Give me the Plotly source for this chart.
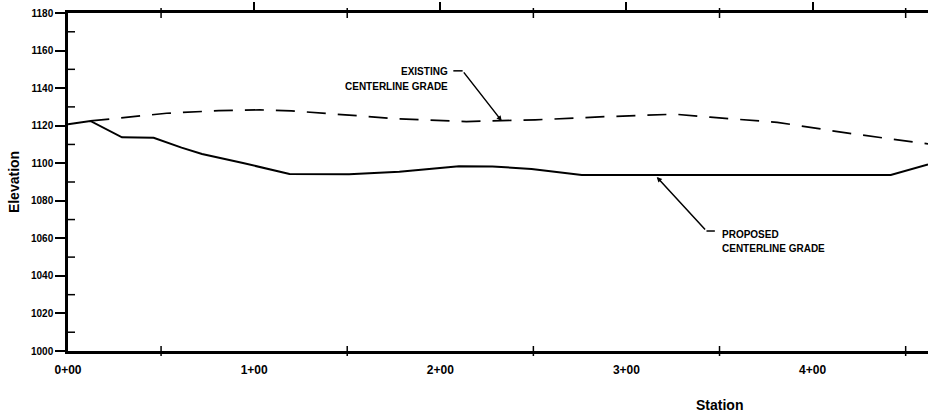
import plotly.graph_objects as go

# proposed centerline grade (solid)
station_prop = [0, 12, 29, 46, 61, 72, 94, 119, 151, 178, 210, 228, 249, 276, 442, 462]
elev_prop = [1120.8, 1122.5, 1113.8, 1113.5, 1108.3, 1104.9, 1100.1, 1094.3,
             1094.1, 1095.5, 1098.4, 1098.3, 1096.9, 1093.7, 1093.7, 1099.4]

# existing centerline grade (dashed)
station_exist = [12, 53, 81, 103, 120, 155, 178, 214, 251, 289, 326, 345, 381, 419, 456, 462]
elev_exist = [1122.5, 1126.6, 1128.0, 1128.4, 1127.9, 1125.4, 1123.6, 1122.2,
              1123.1, 1124.8, 1126.1, 1124.5, 1121.8, 1116.0, 1111.0, 1110.3]

x_ticks = [0, 100, 200, 300, 400]
x_labels = ["0+00", "1+00", "2+00", "3+00", "4+00"]
x_half = [50, 150, 250, 350, 450]
y_ticks = list(range(1000, 1181, 20))
y_half = list(range(1010, 1180, 20))

FONT = "Liberation Sans"

fig = go.Figure()
fig.add_trace(go.Scatter(x=station_prop, y=elev_prop, mode="lines",
                         line=dict(color="black", width=2)))
fig.add_trace(go.Scatter(x=station_exist, y=elev_exist, mode="lines", xaxis="x2",
                         line=dict(color="black", width=1.7, dash="19px,12px")))

fig.update_layout(
    width=928, height=420,
    plot_bgcolor="white", paper_bgcolor="white",
    showlegend=False,
    margin=dict(l=68, r=0, t=13, b=69),
    font=dict(family=FONT, color="black", weight="bold"),
    xaxis=dict(range=[0, 462], tickvals=x_ticks, ticktext=x_labels, ticks="",
               showline=True, linewidth=2.5, linecolor="black", showgrid=False,
               zeroline=False, tickfont=dict(size=12, weight="bold"),
               ticklabelstandoff=6, automargin=False, ticklabeloverflow="allow"),
    xaxis2=dict(overlaying="x", matches="x", side="top", tickvals=x_ticks[1:],
                ticks="outside", ticklen=8, tickwidth=1.5, tickcolor="black",
                showticklabels=False, showline=True, linewidth=2.5,
                linecolor="black", showgrid=False, zeroline=False,
                automargin=False),
    yaxis=dict(range=[1000, 1180], tickvals=y_ticks, ticks="outside", ticklen=10,
               tickwidth=1.5, tickcolor="black", showline=True, linewidth=2.5,
               linecolor="black", showgrid=False, zeroline=False,
               tickfont=dict(size=10, weight="bold"), automargin=False,
               ticklabeloverflow="allow",
               title=dict(text="Elevation", font=dict(size=14, weight="bold"),
                          standoff=9)),
)

# crossing ticks at half stations and odd tens
for xv in x_half:
    for ya in (0, 1):
        fig.add_shape(type="line", xref="x", yref="paper", ysizemode="pixel",
                      yanchor=ya, x0=xv, x1=xv, y0=-5, y1=5,
                      line=dict(color="black", width=1.5))
for yv in y_half:
    fig.add_shape(type="line", yref="y", xref="paper", xsizemode="pixel",
                  xanchor=0, y0=yv, y1=yv, x0=-3, x1=7,
                  line=dict(color="black", width=1.5))

lbl = dict(size=10, weight="bold")
fig.add_annotation(x=205, y=1148.7, text="EXISTING", showarrow=False,
                   xanchor="right", yanchor="middle", font=lbl)
fig.add_annotation(x=205, y=1140.9, text="CENTERLINE GRADE", showarrow=False,
                   xanchor="right", yanchor="middle", font=lbl)
fig.add_annotation(x=350, y=1062.3, text="PROPOSED", showarrow=False,
                   xanchor="left", yanchor="middle", font=lbl)
fig.add_annotation(x=350, y=1054.5, text="CENTERLINE GRADE", showarrow=False,
                   xanchor="left", yanchor="middle", font=lbl)

# leaders
fig.add_shape(type="line", x0=207, x1=212, y0=1149.2, y1=1149.2,
              line=dict(color="black", width=1.5))
fig.add_annotation(x=233, y=1122.5, ax=212, ay=1149.2, axref="x", ayref="y",
                   text="", showarrow=True, arrowhead=2, arrowsize=0.7,
                   arrowwidth=1.5, arrowcolor="black")
fig.add_shape(type="line", x0=343, x1=347.5, y0=1063.9, y1=1063.9,
              line=dict(color="black", width=1.5))
fig.add_annotation(x=316.3, y=1092.7, ax=343, ay=1063.9, axref="x", ayref="y",
                   text="", showarrow=True, arrowhead=2, arrowsize=0.7,
                   arrowwidth=1.5, arrowcolor="black")

fig.add_annotation(x=0.758, y=0, xref="paper", yref="paper", yshift=-54,
                   text="Station", showarrow=False, xanchor="center",
                   yanchor="middle", font=dict(size=14, weight="bold"))

# drop the default page margin so the figure sits at the window corner
fig.write_html("out.html", config={"displayModeBar": False},
               post_script="document.body.style.margin='0';"
                           "document.body.style.overflow='hidden';")
